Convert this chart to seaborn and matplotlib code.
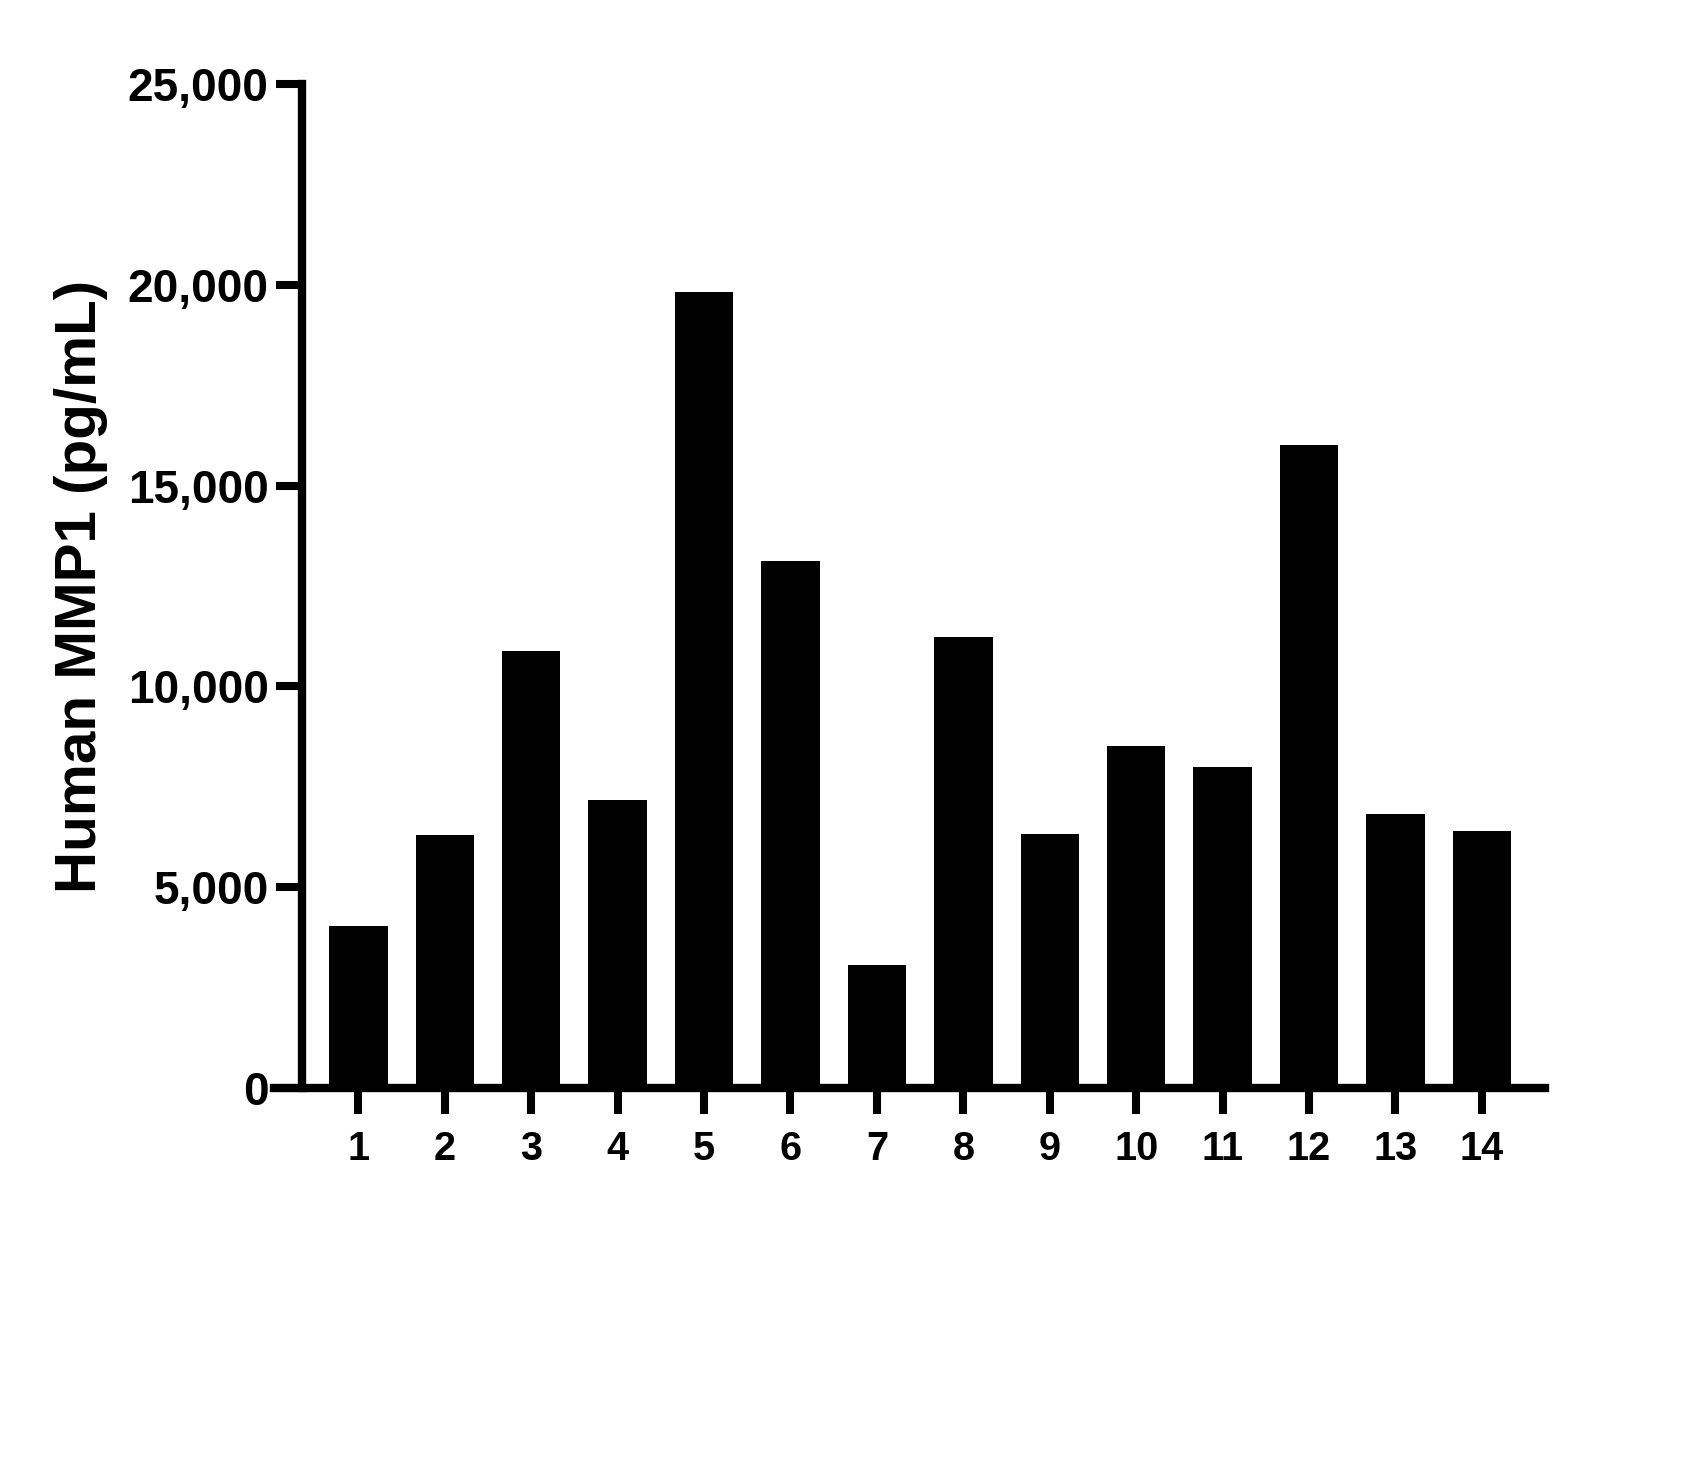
import matplotlib
matplotlib.use('Agg')
import matplotlib.pyplot as plt
import seaborn as sns
import pandas as pd
from matplotlib.ticker import StrMethodFormatter

# sample numbers and MMP1 concentrations (pg/mL)
samples = [str(i) for i in range(1, 15)]
mmp1 = [4030, 6290, 10870, 7160, 19830, 13130, 3060, 11240, 6320, 8520, 7990, 16020, 6820, 6390]
y_ticks = [0, 5000, 10000, 15000, 20000, 25000]

sns.set_style('ticks')
plt.rcParams['font.family'] = ['Liberation Sans', 'DejaVu Sans']
plt.rcParams['font.weight'] = 'bold'
plt.rcParams['text.color'] = 'black'
plt.rcParams['axes.labelcolor'] = 'black'
plt.rcParams['xtick.color'] = 'black'
plt.rcParams['ytick.color'] = 'black'

fig = plt.figure(figsize=(17, 14.78), dpi=100)
ax = fig.add_axes([0.1612, 0.2639, 0.9088 - 0.1612, 0.9432 - 0.2639])

df = pd.DataFrame({'sample': samples, 'value': mmp1})
sns.barplot(data=df, x='sample', y='value', order=samples, color='black',
            width=0.677, linewidth=0, saturation=1, ax=ax)

sns.despine(ax=ax)
ax.set_xlim(-0.976, 13.73)
ax.set_ylim(0, 25000)
ax.spines['left'].set_position(('data', -0.652))
for side in ['left', 'bottom']:
    ax.spines[side].set_linewidth(6)
    ax.spines[side].set_color('black')
    ax.spines[side].set_capstyle('projecting')

ax.set_yticks(y_ticks)
ax.yaxis.set_major_formatter(StrMethodFormatter('{x:,.0f}'))
ax.tick_params(axis='both', length=19, width=5.8, direction='out',
               color='black', labelcolor='black')
ax.tick_params(axis='y', labelsize=33, pad=5)
ax.tick_params(axis='x', labelsize=28.5, pad=11)
for lab in ax.get_xticklabels() + ax.get_yticklabels():
    lab.set_fontweight('bold')

ax.set_xlabel('')
ax.set_ylabel('Human MMP1 (pg/mL)', fontsize=42, fontweight='bold',
              color='black', labelpad=14)

fig.savefig('out.png', dpi=100)
